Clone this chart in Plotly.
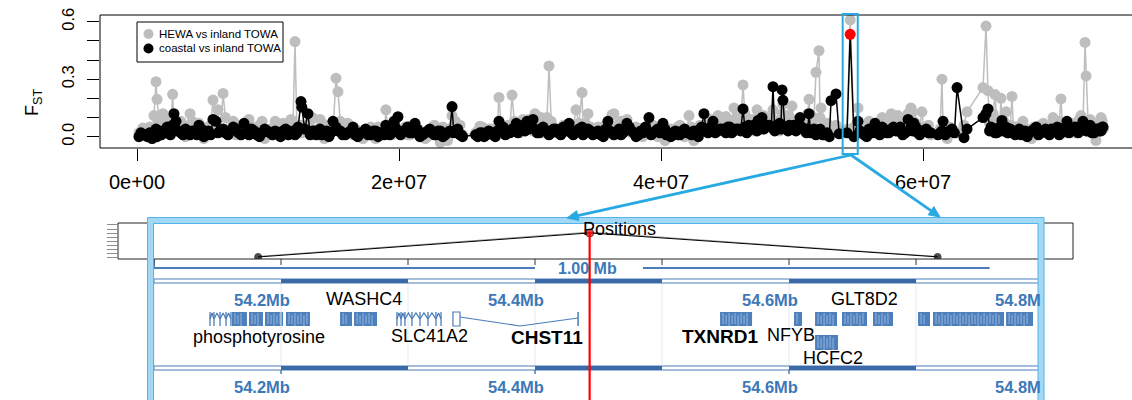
import math
import plotly.graph_objects as go

W, H = 1132, 400
FONT = "Liberation Sans, Arial, Helvetica, sans-serif"
GREY = "#bebebe"
SKY = "#29a9e1"
TRACK_BLUE = "#4a7cb9"
LABEL_BLUE = "#3d78b8"

# ---------------------------------------------------------------------------
# Genome-wide FST windows (window start in Mb) for the two comparisons
# ---------------------------------------------------------------------------
window_mb = [
    0.15, 0.45, 0.80, 1.15, 1.30, 1.45, 1.53, 1.98, 2.30, 2.55,
    2.72, 2.82, 2.98, 3.35, 3.70, 4.05, 4.40, 4.73, 5.10, 5.45,
    5.80, 6.03, 6.18, 6.57, 6.95, 7.35, 7.75, 8.17, 8.55, 8.95,
    9.35, 9.75, 10.15, 10.55, 10.95, 11.35, 11.75, 12.06, 12.30, 12.52,
    12.58, 13.05, 13.40, 13.70, 13.97, 14.30, 14.65, 14.96, 15.19, 15.34,
    15.70, 16.10, 16.49, 16.85, 17.25, 17.65, 18.05, 18.40, 18.75, 19.00,
    19.30, 19.62, 19.92, 20.30, 20.65, 21.00, 21.22, 21.60, 22.00, 22.35,
    22.70, 22.98, 23.35, 23.70, 24.05, 24.30, 24.66, 24.85, 25.85, 26.18,
    26.50, 26.85, 27.20, 27.50, 27.63, 27.95, 28.30, 28.63, 28.95, 29.20,
    29.47, 29.77, 30.05, 30.23, 30.38, 30.70, 31.00, 31.30, 31.45, 31.80,
    32.15, 32.55, 32.98, 33.30, 33.51, 33.97, 34.20, 34.43, 34.80, 35.20,
    35.60, 35.95, 36.26, 36.41, 36.80, 37.10, 37.40, 37.75, 38.10, 38.45,
    38.80, 39.08, 39.40, 39.75, 40.15, 40.40, 40.75, 41.10, 41.45, 41.80,
    42.14, 42.50, 42.85, 43.10, 43.28, 43.60, 43.97, 44.35, 44.65, 44.96,
    45.25, 45.57, 45.90, 46.26, 46.55, 46.85, 47.10, 47.33, 47.41, 47.71,
    48.00, 48.30, 48.55, 48.80, 49.05, 49.24, 49.31, 49.60, 49.80, 50.00,
    50.30, 50.61, 50.90, 51.10, 51.30, 51.55, 51.83, 52.06, 52.14, 52.21,
    52.50, 52.85, 52.98, 53.36, 53.60, 54.20, 54.443, 54.73, 55.04, 55.35,
    55.70, 56.05, 56.34, 56.70, 57.05, 57.40, 57.75, 58.09, 58.45, 58.86,
    59.08, 59.31, 59.60, 59.92, 60.25, 60.60, 61.15, 61.45, 61.53, 61.85,
    62.21, 62.60, 63.13, 63.36, 64.58, 64.81, 64.96, 65.20, 65.50, 65.75,
    65.95, 66.03, 66.34, 66.55, 66.79, 67.05, 67.35, 67.63, 67.95, 68.30,
    68.65, 69.00, 69.35, 69.65, 69.92, 70.25, 70.53, 70.75, 70.99, 71.30,
    71.60, 71.85, 72.06, 72.21, 72.37, 72.45, 72.75, 73.05, 73.35, 73.59,
    73.75,
]

fst_hewa = [
    0.02, 0.045, 0.00, 0.03, 0.11, 0.287, 0.195, 0.12, 0.05, 0.02,
    0.221, 0.06, 0.03, 0.08, 0.00, 0.12, 0.04, 0.07, -0.01, 0.05,
    0.191, 0.06, 0.14, 0.226, 0.03, 0.08, 0.01, 0.05, 0.09, 0.02,
    0.06, -0.01, 0.04, 0.08, 0.01, 0.05, 0.09, 0.496, 0.03, 0.06,
    0.02, 0.04, 0.10, 0.02, 0.09, -0.01, 0.06, 0.03, 0.305, 0.235,
    0.04, 0.07, 0.01, 0.03, -0.01, 0.04, 0.02, 0.05, 0.01, 0.14,
    0.03, 0.05, 0.02, 0.04, 0.01, 0.06, 0.02, 0.03, -0.01, 0.02,
    0.06, 0.03, 0.05, -0.02, 0.11, 0.08, 0.06, 0.01, 0.02, 0.055,
    0.03, 0.04, 0.01, 0.05, 0.205, 0.03, 0.06, 0.217, 0.05, 0.02,
    0.09, 0.04, 0.08, 0.03, 0.12, 0.06, 0.02, 0.10, 0.369, 0.04,
    0.02, 0.06, 0.03, 0.05, 0.14, 0.23, 0.07, 0.12, 0.02, 0.05,
    0.01, 0.04, 0.115, 0.12, 0.03, 0.06, 0.09, 0.02, 0.05, 0.01,
    0.04, 0.02, 0.06, 0.00, 0.03, -0.01, 0.04, 0.02, 0.06, 0.00,
    0.11, -0.02, 0.04, 0.02, 0.06, 0.03, 0.08, 0.11, 0.05, 0.105,
    0.04, 0.15, 0.06, 0.27, 0.05, 0.08, 0.03, 0.14, 0.06, 0.04,
    0.09, 0.05, 0.14, 0.07, 0.03, 0.12, 0.17, 0.06, 0.10, 0.16,
    0.08, 0.05, 0.10, 0.04, 0.195, 0.07, 0.336, 0.449, 0.10, 0.15,
    0.05, 0.02, 0.04, 0.06, 0.03, 0.04, 0.609, 0.05, 0.15, 0.03,
    0.06, 0.02, 0.05, 0.08, 0.03, 0.07, 0.10, 0.11, 0.06, 0.12,
    0.15, 0.08, 0.03, 0.13, 0.05, 0.01, 0.02, 0.30, 0.05, -0.01,
    0.03, 0.02, 0.06, 0.13, 0.256, 0.577, 0.24, 0.10, 0.22, 0.06,
    0.20, 0.07, 0.13, 0.04, 0.21, 0.05, 0.02, 0.08, 0.04, -0.01,
    0.03, 0.06, 0.02, 0.05, 0.10, 0.04, 0.197, 0.06, 0.03, 0.07,
    0.02, 0.08, 0.11, 0.06, 0.492, 0.317, 0.09, 0.04, 0.07, 0.10,
    0.04,
]

fst_coastal = [
    0.00, 0.01, 0.00, -0.01, 0.02, 0.04, 0.00, 0.03, 0.05, 0.01,
    0.06, 0.12, 0.08, 0.02, 0.04, 0.01, 0.03, 0.06, 0.00, 0.03,
    0.09, 0.08, 0.02, 0.04, 0.01, 0.05, 0.02, 0.07, 0.01, 0.03,
    0.00, 0.04, 0.02, 0.03, 0.00, 0.04, 0.02, 0.01, 0.05, 0.183,
    0.154, 0.12, 0.03, 0.01, 0.04, 0.02, 0.00, 0.08, 0.05, 0.03,
    0.01, 0.02, 0.05, 0.00, 0.02, 0.01, 0.03, 0.00, 0.02, 0.06,
    0.01, 0.08, 0.104, 0.03, 0.05, 0.02, 0.07, 0.00, 0.02, 0.04,
    0.01, 0.03, 0.00, 0.02, 0.157, 0.03, 0.01, 0.00, 0.01, 0.02,
    0.00, 0.03, 0.01, 0.03, 0.08, 0.05, 0.02, 0.04, 0.07, 0.03,
    0.06, 0.08, 0.05, 0.09, 0.04, 0.02, 0.05, 0.03, 0.01, 0.04,
    0.02, 0.05, 0.07, 0.01, 0.03, 0.05, 0.02, 0.04, 0.01, 0.03,
    0.00, 0.08, 0.02, 0.01, 0.04, 0.02, 0.07, 0.03, 0.00, 0.03,
    0.05, 0.10, 0.02, 0.04, 0.07, 0.01, 0.00, 0.03, 0.01, 0.04,
    0.02, 0.03, 0.00, 0.05, 0.12, 0.02, 0.08, 0.03, 0.04, 0.02,
    0.05, 0.03, 0.04, 0.145, 0.02, 0.04, 0.06, 0.03, 0.085, 0.10,
    0.05, 0.06, 0.261, 0.05, 0.07, 0.244, 0.19, 0.05, 0.06, 0.04,
    0.03, 0.10, 0.04, 0.02, 0.12, 0.03, 0.01, 0.03, 0.04, 0.02,
    0.01, 0.00, 0.188, 0.223, 0.015, 0.02, 0.534, 0.00, 0.08, 0.02,
    0.00, 0.03, 0.07, 0.01, 0.04, 0.02, 0.05, 0.03, 0.01, 0.09,
    0.04, 0.07, 0.02, 0.03, 0.04, 0.02, 0.01, 0.03, 0.08, 0.02,
    0.04, 0.256, -0.005, 0.04, 0.10, 0.12, 0.145, 0.05, 0.02, 0.04,
    0.03, 0.085, 0.05, 0.02, 0.03, 0.01, 0.04, 0.02, 0.00, 0.03,
    0.05, 0.02, 0.04, 0.01, 0.03, 0.05, 0.02, 0.04, 0.08, 0.03,
    0.05, 0.02, 0.04, 0.08, 0.05, 0.03, 0.06, 0.02, 0.04, 0.03,
    0.05,
]

# additional low-differentiation windows scattered between the ones above
fill_mb = [
    0.30, 0.62, 0.97, 1.70, 1.85, 2.15, 2.42, 3.15, 3.52, 3.88,
    4.22, 4.57, 4.92, 5.28, 5.62, 6.35, 6.75, 7.15, 7.55, 7.95,
    8.35, 8.75, 9.15, 9.55, 9.95, 10.35, 10.75, 11.15, 11.55, 11.90,
    12.20, 12.80, 13.22, 13.55, 13.85, 14.12, 14.48, 14.80, 15.52, 15.90,
    16.30, 16.67, 17.05, 17.45, 17.85, 18.22, 18.58, 18.88, 19.15, 19.45,
    19.77, 20.12, 20.48, 20.82, 21.40, 21.80, 22.18, 22.52, 22.85, 23.15,
    23.52, 23.88, 24.18, 24.48, 24.75, 26.02, 26.35, 26.68, 27.02, 27.35,
    27.80, 28.12, 28.47, 28.80, 29.08, 29.33, 29.62, 29.92, 30.55, 30.85,
    31.15, 31.62, 31.98, 32.35, 32.75, 33.15, 33.72, 34.05, 34.62, 35.00,
    35.40, 35.78, 36.10, 36.60, 36.95, 37.25, 37.58, 37.92, 38.28, 38.62,
    38.95, 39.25, 39.58, 39.92, 40.30, 40.92, 41.28, 41.62, 41.97, 42.32,
    42.68, 42.98, 43.45, 43.78, 44.15, 44.50, 44.80, 45.10, 45.40, 45.75,
    46.08, 46.40, 46.70, 46.98, 47.20, 47.55, 47.85, 48.15, 48.42, 48.68,
    48.92, 49.15, 49.45, 49.70, 49.90, 50.15, 50.45, 50.75, 51.00, 51.20,
    51.42, 51.68, 52.35, 52.68, 55.20, 55.52, 55.88, 56.20, 56.52, 56.88,
    57.22, 57.58, 57.92, 58.27, 58.65, 59.20, 59.45, 59.75, 60.08, 60.42,
    61.30, 61.70, 62.02, 62.40, 65.08, 65.35, 65.62, 65.85, 66.18, 66.45,
    66.67, 66.92, 67.20, 67.50, 67.80, 68.12, 68.48, 68.82, 69.18, 69.50,
    69.80, 70.10, 70.40, 70.65, 70.88, 71.15, 71.45, 71.72, 71.95, 72.60,
    72.90, 73.20, 73.47, 73.68,
]

fill_hewa = [
    0.01, 0.03, 0.05, 0.07, 0.02, 0.04, 0.09, 0.03, 0.06, 0.01,
    0.08, 0.02, 0.05, 0.03, 0.06, 0.02, 0.10, 0.04, 0.01, 0.06,
    0.03, 0.05, 0.02, 0.08, 0.03, 0.01, 0.05, 0.07, 0.02, 0.04,
    0.06, 0.03, 0.08, 0.01, 0.04, 0.07, 0.02, 0.05, 0.08, 0.03,
    0.02, 0.04, 0.01, 0.03, 0.05, -0.01, 0.03, 0.02, 0.04, 0.01,
    0.03, 0.02, 0.05, 0.01, 0.04, 0.02, 0.00, 0.03, 0.05, -0.03,
    0.02, 0.04, 0.06, 0.03, 0.01, 0.03, 0.05, 0.02, 0.04, 0.01,
    0.06, 0.03, 0.05, 0.08, 0.04, 0.07, 0.03, 0.09, 0.05, 0.10,
    0.03, 0.08, 0.04, 0.02, 0.06, 0.04, 0.07, 0.03, 0.05, 0.02,
    0.04, 0.06, 0.02, 0.05, 0.08, 0.03, 0.05, 0.02, 0.04, 0.00,
    0.03, 0.05, 0.02, 0.04, -0.02, 0.03, 0.05, 0.01, 0.03, 0.05,
    0.02, 0.06, 0.04, 0.09, 0.03, 0.07, 0.05, 0.08, 0.06, 0.10,
    0.07, 0.12, 0.06, 0.09, 0.05, 0.08, 0.11, 0.06, 0.10, 0.08,
    0.05, 0.09, 0.07, 0.11, 0.08, 0.06, 0.09, 0.05, 0.07, 0.12,
    0.06, 0.10, 0.04, 0.07, 0.05, 0.03, 0.08, 0.04, 0.06, 0.10,
    0.07, 0.12, 0.09, 0.06, 0.10, 0.13, 0.07, 0.05, 0.03, 0.06,
    0.04, 0.02, 0.05, 0.03, 0.07, 0.12, 0.09, 0.05, 0.08, 0.04,
    0.06, 0.03, 0.05, 0.02, 0.04, 0.01, 0.05, 0.03, 0.07, 0.04,
    0.06, 0.03, 0.08, 0.05, 0.02, 0.06, 0.04, 0.07, 0.09, 0.08,
    0.06, -0.02, 0.05, 0.08,
]

fill_coastal = [
    0.02, 0.01, 0.02, 0.03, 0.01, 0.02, 0.04, 0.03, 0.01, 0.02,
    0.03, 0.01, 0.04, 0.02, 0.01, 0.03, 0.02, 0.03, 0.04, 0.01,
    0.02, 0.04, 0.01, 0.02, 0.03, 0.01, 0.02, 0.03, 0.01, 0.03,
    0.02, 0.04, 0.01, 0.03, 0.02, 0.01, 0.03, 0.02, 0.03, 0.01,
    0.03, 0.01, 0.02, 0.04, 0.01, 0.03, 0.02, 0.01, 0.03, 0.02,
    0.04, 0.01, 0.03, 0.02, 0.04, 0.01, 0.03, 0.02, 0.01, 0.03,
    0.01, 0.03, 0.02, 0.04, 0.01, 0.00, 0.02, 0.01, 0.02, 0.00,
    0.03, 0.01, 0.02, 0.04, 0.02, 0.05, 0.03, 0.04, 0.02, 0.04,
    0.03, 0.02, 0.04, 0.01, 0.03, 0.02, 0.04, 0.01, 0.03, 0.02,
    0.01, 0.04, 0.03, 0.02, 0.01, 0.03, 0.05, 0.02, 0.01, 0.02,
    0.03, 0.01, 0.03, 0.02, 0.04, 0.02, 0.01, 0.03, 0.02, 0.01,
    0.02, 0.04, 0.03, 0.05, 0.02, 0.04, 0.03, 0.05, 0.02, 0.04,
    0.03, 0.05, 0.06, 0.04, 0.05, 0.07, 0.04, 0.06, 0.05, 0.03,
    0.06, 0.04, 0.05, 0.03, 0.05, 0.06, 0.04, 0.05, 0.03, 0.04,
    0.02, 0.04, 0.01, 0.02, 0.03, 0.01, 0.04, 0.02, 0.03, 0.05,
    0.02, 0.04, 0.03, 0.05, 0.02, 0.03, 0.05, 0.01, 0.03, 0.02,
    0.02, 0.01, 0.03, 0.02, 0.03, 0.04, 0.02, 0.05, 0.03, 0.02,
    0.04, 0.02, 0.03, 0.01, 0.03, 0.02, 0.04, 0.01, 0.03, 0.02,
    0.04, 0.03, 0.01, 0.03, 0.05, 0.02, 0.04, 0.03, 0.05, 0.03,
    0.02, 0.04, 0.03, 0.05,
]

assert len(window_mb) == len(fst_hewa) == len(fst_coastal)
assert len(fill_mb) == len(fill_hewa) == len(fill_coastal)

PEAK_MB = 54.443          # outlier window highlighted in red

x_tick_vals = [0, 2e7, 4e7, 6e7]
x_tick_text = ["0e+00", "2e+07", "4e+07", "6e+07"]
y_tick_vals = [0.0, 0.3, 0.6]
y_tick_text = ["0.0", "0.3", "0.6"]
y_minor_ticks = [0.1, 0.2, 0.4, 0.5]

# ---------------------------------------------------------------------------
# Zoomed region around the outlier (Mb)
# ---------------------------------------------------------------------------
zoom_pos_mb = [54.182, PEAK_MB, 54.717]
zoom_coastal = [0.010, 0.534, 0.012]
zoom_hewa = [0.022, 0.552, 0.020]

ruler_ticks_mb = [54.1, 54.2, 54.3, 54.4, 54.5, 54.6, 54.7, 54.8]
ruler_dark_start = [54.2, 54.4, 54.6]
ruler_label_mb = [54.2, 54.4, 54.6, 54.8]
ruler_label_text = ["54.2Mb", "54.4Mb", "54.6Mb", "54.8M"]
scale_bar_text = "1.00 Mb"

# solid gene blocks: start, end (Mb), row
block_start = [54.1614, 54.1748, 54.1874, 54.2039, 54.2465, 54.2575, 54.5457,
               54.6039, 54.6205, 54.6417, 54.6661, 54.7016, 54.7134, 54.7709, 54.6205]
block_end = [54.1732, 54.1858, 54.2016, 54.2228, 54.2559, 54.2756, 54.5709,
             54.6102, 54.6378, 54.6614, 54.6819, 54.7110, 54.7693, 54.7921, 54.6386]
block_row = ["top"] * 14 + ["bottom"]

# thin exons joined by introns
zigzag_gene_a = [54.1441, 54.1472, 54.1520, 54.1567, 54.1606]
zigzag_slc41a2 = [54.2913, 54.2945, 54.2976, 54.3031, 54.3094, 54.3157, 54.3220, 54.3260]
chst11_exon_box = [54.3354, 54.3409]
chst11_intron = [54.3409, 54.3882, 54.4339]

gene_names = ["phosphotyrosine", "WASHC4", "SLC41A2", "CHST11", "TXNRD1", "NFYB", "GLT8D2", "HCFC2"]
gene_label_mb = [54.1827, 54.2654, 54.3173, 54.4094, 54.5457, 54.6016, 54.6591, 54.6346]
gene_label_row = [337, 299, 336, 337, 336, 335, 299, 358]
gene_bold = [False, False, False, True, True, False, False, False]

legend_names = ["HEWA vs inland TOWA", "coastal vs inland TOWA"]
legend_colors = [GREY, "black"]


def pxx(px):
    return px / W


def pxy(py):
    return 1 - py / H


# all windows in genomic order
rows = sorted(zip(window_mb + fill_mb, fst_hewa + fill_hewa, fst_coastal + fill_coastal))
all_mb = [r[0] for r in rows]
all_hewa = [r[1] for r in rows]
all_coastal = [r[2] for r in rows]

fig = go.Figure()

# ---- genome-wide scan -----------------------------------------------------
x_bp = [p * 1e6 for p in all_mb]
fig.add_trace(go.Scatter(
    x=x_bp, y=all_hewa, mode="lines+markers", xaxis="x", yaxis="y",
    line=dict(color=GREY, width=1.5), marker=dict(color=GREY, size=11),
    showlegend=False, hoverinfo="skip"))
fig.add_trace(go.Scatter(
    x=x_bp, y=all_coastal, mode="lines+markers", xaxis="x", yaxis="y",
    line=dict(color="black", width=1.5),
    marker=dict(color=["red" if p == PEAK_MB else "black" for p in all_mb], size=11),
    showlegend=False, hoverinfo="skip"))

# ---- zoomed "Positions" strip ---------------------------------------------
fig.add_trace(go.Scatter(
    x=zoom_pos_mb, y=zoom_hewa, mode="lines", xaxis="x2", yaxis="y2",
    line=dict(color="#9a9a9a", width=1), showlegend=False, hoverinfo="skip"))
fig.add_trace(go.Scatter(
    x=zoom_pos_mb, y=zoom_coastal, mode="lines+markers", xaxis="x2", yaxis="y2",
    line=dict(color="black", width=1),
    marker=dict(color=["black", "red", "black"], size=[7, 8, 7]),
    showlegend=False, hoverinfo="skip"))


# ---- gene models ----------------------------------------------------------
def zigzag(exons, top=312, bottom=326):
    xs, ys = [], []
    for i, e in enumerate(exons):
        xs += [e, e, None]
        ys += [bottom, top, None]
        if i + 1 < len(exons):
            xs += [e, (e + exons[i + 1]) / 2, exons[i + 1], None]
            ys += [319, 313, 319, None]
    return xs, ys


for exons in (zigzag_gene_a, zigzag_slc41a2):
    zx, zy = zigzag(exons)
    fig.add_trace(go.Scatter(x=zx, y=zy, mode="lines", xaxis="x2", yaxis="y3",
                             line=dict(color=TRACK_BLUE, width=1.3),
                             showlegend=False, hoverinfo="skip"))

fig.add_trace(go.Scatter(x=chst11_intron, y=[317, 326, 318], mode="lines",
                         xaxis="x2", yaxis="y3", line=dict(color=TRACK_BLUE, width=1.2),
                         showlegend=False, hoverinfo="skip"))

# exon striping drawn over the solid blocks
MB_PER_PX = 0.2 / 254
sx, sy = [], []
for s, e, row in zip(block_start, block_end, block_row):
    y0, y1 = (312, 326) if row == "top" else (335, 350)
    n = int((e - s) / (3 * MB_PER_PX))
    for k in range(1, n):
        xk = s + k * 3 * MB_PER_PX
        sx += [xk, xk, None]
        sy += [y0 + (1 if k % 2 else 3), y1 - (2 if k % 3 else 0), None]
fig.add_trace(go.Scatter(x=sx, y=sy, mode="lines", xaxis="x2", yaxis="y3",
                         line=dict(color="rgba(200,218,240,0.6)", width=1),
                         showlegend=False, hoverinfo="skip"))

shapes = []

for s, e, row in zip(block_start, block_end, block_row):
    y0, y1 = (312, 326) if row == "top" else (335, 350)
    shapes.append(dict(type="rect", xref="x2", yref="y3", x0=s, x1=e, y0=y0, y1=y1,
                       fillcolor="#4d7fbc", line=dict(width=0), layer="below"))
shapes.append(dict(type="rect", xref="x2", yref="y3", x0=chst11_exon_box[0], x1=chst11_exon_box[1],
                   y0=312, y1=326, fillcolor="white", line=dict(color=TRACK_BLUE, width=1.2),
                   layer="above"))
shapes.append(dict(type="line", xref="x2", yref="y3", x0=chst11_intron[-1], x1=chst11_intron[-1],
                   y0=312, y1=326, line=dict(color=TRACK_BLUE, width=1.5), layer="above"))

# faint region grid
for t in ruler_ticks_mb:
    shapes.append(dict(type="line", xref="x2", yref="y3", x0=t, x1=t, y0=283, y1=366,
                       line=dict(color="#e4e9f2", width=1), layer="below"))

# genome rulers (upper and lower)
for (ry0, ry1) in ((279, 283), (366, 370)):
    shapes.append(dict(type="rect", xref="x2", yref="y3", x0=ruler_ticks_mb[0], x1=ruler_ticks_mb[-1],
                       y0=ry0, y1=ry1, fillcolor="white", line=dict(color=TRACK_BLUE, width=1)))
    for s in ruler_dark_start:
        shapes.append(dict(type="rect", xref="x2", yref="y3", x0=s, x1=s + 0.1, y0=ry0, y1=ry1,
                           fillcolor="#3b68a6", line=dict(width=0)))
for t in ruler_label_mb:
    shapes.append(dict(type="line", xref="x2", yref="y3", x0=t, x1=t, y0=370, y1=374,
                       line=dict(color=TRACK_BLUE, width=1.5)))

# ticks below the positions strip and the scale bar
for t in ruler_ticks_mb:
    shapes.append(dict(type="line", xref="x2", yref="y3", x0=t, x1=t, y0=259, y1=265,
                       line=dict(color="#333333", width=1)))
shapes.append(dict(type="line", xref="x2", yref="y3", x0=54.1, x1=54.1, y0=259, y1=268,
                   line=dict(color="#2c4f80", width=1.5)))
shapes.append(dict(type="line", xref="x2", yref="y3", x0=54.1, x1=54.4, y0=268, y1=268,
                   line=dict(color=TRACK_BLUE, width=1.8)))
shapes.append(dict(type="line", xref="x2", yref="y3", x0=54.485, x1=54.758, y0=268, y1=268,
                   line=dict(color=TRACK_BLUE, width=1.8)))

# positions strip frame
shapes.append(dict(type="rect", xref="x2 domain", yref="y2 domain", x0=0, x1=1, y0=0, y1=1,
                   line=dict(color="#222222", width=1)))

# red marker line for the outlier window
shapes.append(dict(type="line", xref="x2", yref="y3", x0=PEAK_MB, x1=PEAK_MB, y0=232, y1=402,
                   line=dict(color="red", width=2.2), layer="above"))

# light-blue frame around the zoomed panel
shapes.append(dict(type="rect", xref="paper", yref="paper",
                   x0=pxx(150.5), x1=pxx(1041), y0=pxy(404), y1=pxy(220.5),
                   line=dict(color="#a3d8f5", width=6), layer="above"))
for (a, b, c) in ((147.5, 1044, 217.5), (153.5, 1038, 223.5)):
    shapes.append(dict(type="rect", xref="paper", yref="paper",
                       x0=pxx(a), x1=pxx(b), y0=pxy(404), y1=pxy(c),
                       line=dict(color="#52b4e8", width=1), layer="above"))

# box around the genome-wide scan
shapes.append(dict(type="rect", xref="paper", yref="paper",
                   x0=pxx(100), x1=1.01, y0=pxy(148), y1=pxy(15),
                   line=dict(color="black", width=1)))

# highlight of the outlier window
shapes.append(dict(type="rect", xref="x", yref="paper",
                   x0=(PEAK_MB - 0.575) * 1e6, x1=(PEAK_MB + 0.575) * 1e6,
                   y0=pxy(154), y1=pxy(14), line=dict(color=SKY, width=2), layer="above"))

# arrows from the highlighted window to the zoomed panel
TAIL = (851, 155)
for hx, hy in ((567, 218), (940, 217)):
    dx, dy = hx - TAIL[0], hy - TAIL[1]
    L = math.hypot(dx, dy)
    ux, uy = dx / L, dy / L
    bx, by = hx - 11 * ux, hy - 11 * uy
    shapes.append(dict(type="line", xref="paper", yref="paper",
                       x0=pxx(TAIL[0]), y0=pxy(TAIL[1]), x1=pxx(bx), y1=pxy(by),
                       line=dict(color=SKY, width=2.8), layer="above"))
    p1 = (bx - 5 * uy, by + 5 * ux)
    p2 = (bx + 5 * uy, by - 5 * ux)
    path = "M %.5f %.5f L %.5f %.5f L %.5f %.5f Z" % (
        pxx(hx), pxy(hy), pxx(p1[0]), pxy(p1[1]), pxx(p2[0]), pxy(p2[1]))
    shapes.append(dict(type="path", xref="paper", yref="paper", path=path,
                       fillcolor=SKY, line=dict(color=SKY, width=1), layer="above"))

# legend box and keys
shapes.append(dict(type="rect", xref="paper", yref="paper",
                   x0=pxx(137), x1=pxx(283), y0=pxy(62), y1=pxy(22),
                   line=dict(color="black", width=1), fillcolor="white", layer="above"))
for i, col in enumerate(legend_colors):
    cy = 34 + 14.5 * i
    shapes.append(dict(type="circle", xref="paper", yref="paper",
                       x0=pxx(143.5), x1=pxx(153.5), y0=pxy(cy + 5), y1=pxy(cy - 5),
                       fillcolor=col, line=dict(width=0), layer="above"))

annotations = []
for i, name in enumerate(legend_names):
    annotations.append(dict(xref="paper", yref="paper", x=pxx(157), y=pxy(34 + 14.5 * i),
                            text=name, showarrow=False, xanchor="left", yanchor="middle",
                            font=dict(family=FONT, size=11.5, color="black")))

annotations.append(dict(xref="paper", yref="paper", x=pxx(20), y=pxy(87),
                        text="F<sub>ST</sub>", showarrow=False, textangle=-90,
                        font=dict(family=FONT, size=18, color="black")))

annotations.append(dict(xref="x2", yref="y3", x=54.4669, y=229, text="Positions",
                        showarrow=False, font=dict(family=FONT, size=18, color="black")))
annotations.append(dict(xref="x2", yref="y3", x=54.4417, y=268, text="<b>%s</b>" % scale_bar_text,
                        showarrow=False, font=dict(family=FONT, size=16, color=LABEL_BLUE)))

for t, lab in zip(ruler_label_mb, ruler_label_text):
    for ry in (300, 387):
        annotations.append(dict(xref="x2", yref="y3", x=t, y=ry, text="<b>%s</b>" % lab,
                                showarrow=False, xanchor="right",
                                xshift=11 if lab.endswith("Mb") else 0,
                                font=dict(family=FONT, size=16.5, color=LABEL_BLUE)))

for name, gx, gy, bold in zip(gene_names, gene_label_mb, gene_label_row, gene_bold):
    annotations.append(dict(xref="x2", yref="y3", x=gx, y=gy,
                            text="<b>%s</b>" % name if bold else name, showarrow=False,
                            font=dict(family=FONT, size=19 if bold else 18, color="black")))

x_lo = (100 - 137) * 2e7 / 262
x_hi = (1132 - 137) * 2e7 / 262
y_lo = (136.7 - 148) / 191.7
y_hi = (136.7 - 15) / 191.7

fig.update_layout(
    template="none",
    width=W, height=H, autosize=False,
    margin=dict(l=0, r=0, t=0, b=0, pad=0),
    paper_bgcolor="white", plot_bgcolor="rgba(0,0,0,0)",
    showlegend=False,
    xaxis=dict(domain=[pxx(100), 1.0], range=[x_lo, x_hi], anchor="y",
               showgrid=False, zeroline=False, showline=False,
               ticks="outside", ticklen=12, tickwidth=1, tickcolor="black",
               tickvals=x_tick_vals, ticktext=x_tick_text, ticklabelstandoff=4,
               tickfont=dict(family=FONT, size=20, color="black"), automargin=False),
    yaxis=dict(domain=[pxy(148), pxy(15)], range=[y_lo, y_hi], anchor="x",
               showgrid=False, zeroline=False, showline=False,
               ticks="outside", ticklen=12, tickwidth=1, tickcolor="black",
               tickvals=y_tick_vals, ticktext=y_tick_text, tickangle=-90,
               ticklabelstandoff=6,
               minor=dict(tickvals=y_minor_ticks, ticks="outside", ticklen=12,
                          tickwidth=1, tickcolor="black", showgrid=False),
               tickfont=dict(family=FONT, size=16.5, color="black"), automargin=False),
    xaxis2=dict(domain=[pxx(118), pxx(1073)], range=[54.07165, 54.8236], anchor="y2",
                visible=False, showticklabels=False, showgrid=False, zeroline=False,
                automargin=False),
    yaxis2=dict(domain=[pxy(259), pxy(223)], range=[-0.034, 0.751], anchor="x2",
                showgrid=False, zeroline=False, showline=False, showticklabels=False,
                ticks="outside", ticklen=10, tickwidth=1, tickcolor="#8c8c8c",
                tickvals=[-0.012 + 0.09 * k for k in range(9)], automargin=False),
    yaxis3=dict(domain=[0, pxy(217)], range=[400, 217], anchor="x2",
                visible=False, showticklabels=False, showgrid=False, zeroline=False,
                automargin=False),
    shapes=shapes,
    annotations=annotations,
)

fig.write_html("out.html")
